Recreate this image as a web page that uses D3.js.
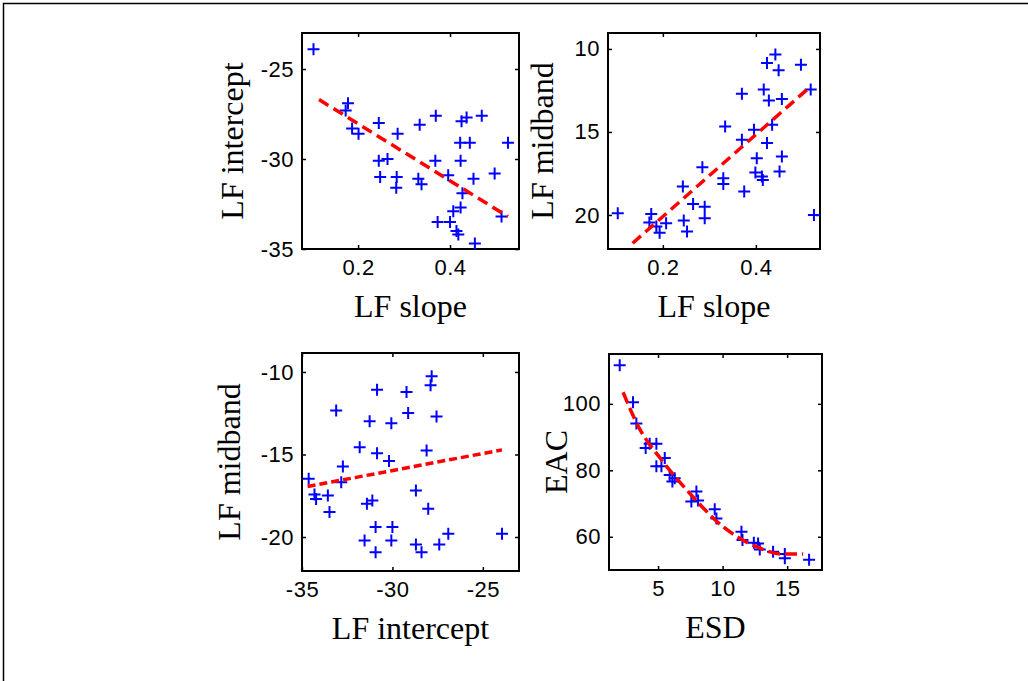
<!DOCTYPE html>
<html><head><meta charset="utf-8">
<script src="https://cdn.jsdelivr.net/npm/d3@7"></script>
<style>
html,body{margin:0;padding:0;background:#fff;}
svg{display:block;}
</style></head>
<body>
<script>
// ---------- DATA ----------
// Panel A: LF slope vs LF intercept
const slopeA = [0.103,0.178,0.173,0.187,0.201,0.245,0.286,0.334,0.369,0.425,0.436,0.469,0.422,0.443,0.526,0.245,0.264,0.248,0.284,0.283,0.331,0.338,0.368,0.396,0.423,0.451,0.497,0.427,0.423,0.407,0.373,0.400,0.414,0.418,0.454,0.512];
const interceptA = [-23.9,-26.9,-27.3,-28.3,-28.6,-28.0,-28.6,-28.1,-27.6,-27.9,-27.7,-27.6,-29.1,-29.1,-29.1,-30.1,-30.0,-31.0,-31.0,-31.6,-31.1,-31.4,-30.1,-30.9,-30.1,-31.1,-30.8,-31.9,-32.7,-32.9,-33.5,-33.5,-34.0,-34.2,-34.7,-33.2];
const fitA_x = [0.115,0.526];
const fitA_y = [-26.7,-33.2];

// Panel B: LF slope vs LF midband (reversed axis)
const slopeB = [0.103,0.175,0.171,0.186,0.193,0.207,0.243,0.245,0.252,0.265,0.290,0.290,0.285,0.334,0.330,0.330,0.370,0.370,0.375,0.396,0.402,0.399,0.413,0.417,0.428,0.424,0.442,0.449,0.424,0.435,0.451,0.456,0.456,0.497,0.518,0.525,0.415];
const midbandB = [19.9,19.94,20.46,20.7,21.07,20.5,18.29,20.34,21.0,19.34,19.5,20.2,17.12,14.67,17.79,18.13,12.7,15.47,18.59,14.87,16.58,17.44,17.69,12.45,13.1,10.85,10.34,11.29,15.67,14.57,17.38,13.02,16.48,10.95,12.45,20.0,17.9];
const fitB_x = [0.135,0.514];
const fitB_y = [21.7,12.35];

// Panel C: LF intercept vs LF midband
const interceptC = [-34.63,-34.31,-34.22,-33.57,-33.48,-33.11,-32.74,-32.83,-31.81,-31.26,-30.85,-30.85,-31.41,-31.11,-30.93,-31.54,-30.93,-30.06,-30.19,-30.0,-30.06,-29.22,-29.13,-28.7,-28.7,-28.39,-28.11,-28.02,-27.83,-27.89,-27.56,-27.41,-26.91,-23.94];
const midbandC = [-16.47,-17.42,-17.69,-17.48,-18.49,-12.33,-15.73,-16.68,-14.56,-12.98,-11.08,-14.92,-17.99,-17.79,-19.4,-20.21,-20.92,-13.1,-15.4,-19.4,-20.21,-11.22,-12.49,-17.18,-20.45,-20.92,-14.76,-18.29,-10.26,-10.81,-12.7,-20.45,-19.81,-19.81];
const fitC_x = [-34.69,-23.94];
const fitC_y = [-16.94,-14.72];

// Panel D: ESD vs EAC
const esdD = [2.03,3.06,3.32,4.04,4.35,4.87,4.87,5.26,5.52,5.90,6.11,6.29,7.58,7.97,8.1,9.39,9.52,11.46,11.54,12.42,12.75,12.88,13.91,14.82,14.82,16.7];
const eacD = [111.6,100.5,94.1,86.7,88.0,88.0,81.2,81.2,83.7,78.6,76.6,77.6,70.6,73.6,70.9,68.3,65.5,61.5,59.0,58.2,58.0,56.2,55.5,54.8,53.5,53.1];
const fitD_x = [2.29,3.5,5.26,7.45,10.04,12.62,14.69,16.24];
const fitD_y = [103.5,93.0,83.2,73.1,63.0,57.0,54.8,54.8];

// Tick labels
const ticksA_x = [0.2,0.4], ticksA_y = [-35,-30,-25];
const ticksB_x = [0.2,0.4], ticksB_y = [10,15,20];
const ticksC_x = [-35,-30,-25], ticksC_y = [-20,-15,-10];
const ticksD_x = [5,10,15], ticksD_y = [60,80,100];

// ---------- DRAW ----------
const W = 1028, H = 681;
const svg = d3.select("body").append("svg").attr("width", W).attr("height", H);

svg.append("path").attr("d", `M3.5,${H} L3.5,3.5 L${W},3.5`)
  .attr("fill","none").attr("stroke","#000").attr("stroke-width",1.5);

const fmt1 = v => String(v.toFixed(1));
const fmt0 = v => String(v); // plain hyphen-minus

const panels = [
  {x0:302,x1:519,y0:33,y1:249, xd:[0.078,0.55], yd:[-35,-23], rev:false,
   xs:slopeA, ys:interceptA, fx:fitA_x, fy:fitA_y, tx:ticksA_x, ty:ticksA_y,
   fmtX:fmt1, xlab:"LF slope", ylab:"LF intercept", ylabX:243, dash:"11,6"},
  {x0:608,x1:820,y0:33,y1:249, xd:[0.082,0.538], yd:[9.04,22.05], rev:true,
   xs:slopeB, ys:midbandB, fx:fitB_x, fy:fitB_y, tx:ticksB_x, ty:ticksB_y,
   fmtX:fmt1, xlab:"LF slope", ylab:"LF midband", ylabX:553, dash:"11,6"},
  {x0:302,x1:519,y0:353,y1:571, xd:[-35,-23], yd:[-22.06,-8.85], rev:false,
   xs:interceptC, ys:midbandC, fx:fitC_x, fy:fitC_y, tx:ticksC_x, ty:ticksC_y,
   fmtX:fmt0, xlab:"LF intercept", ylab:"LF midband", ylabX:240, dash:"8,4"},
  {x0:609,x1:822,y0:354,y1:570, xd:[1.2,17.7], yd:[50,115], rev:false,
   xs:esdD, ys:eacD, fx:fitD_x, fy:fitD_y, tx:ticksD_x, ty:ticksD_y,
   fmtX:fmt0, xlab:"ESD", ylab:"EAC", ylabX:567, dash:"12,5", curve:true}
];

panels.forEach(p => {
  const x = d3.scaleLinear().domain(p.xd).range([p.x0, p.x1]);
  const y = d3.scaleLinear().domain(p.yd).range(p.rev ? [p.y0, p.y1] : [p.y1, p.y0]);
  const g = svg.append("g");
  const tl = 4;
  const bottom = g.append("g").attr("transform",`translate(0,${p.y1})`)
    .call(d3.axisBottom(x).tickValues(p.tx).tickSize(-tl).tickPadding(10).tickFormat(p.fmtX));
  const top = g.append("g").attr("transform",`translate(0,${p.y0})`)
    .call(d3.axisTop(x).tickValues(p.tx).tickSize(-tl).tickFormat(""));
  const left = g.append("g").attr("transform",`translate(${p.x0},0)`)
    .call(d3.axisLeft(y).tickValues(p.ty).tickSize(-tl).tickPadding(8).tickFormat(fmt0));
  const right = g.append("g").attr("transform",`translate(${p.x1},0)`)
    .call(d3.axisRight(y).tickValues(p.ty).tickSize(-tl).tickFormat(""));
  [bottom,top,left,right].forEach(a => {
    a.select(".domain").remove();
    a.selectAll("line").attr("stroke","#000").attr("stroke-width",1.5);
    a.selectAll("text").attr("font-family","'Liberation Sans', Arial, sans-serif")
      .attr("font-size",22).attr("letter-spacing","0.5px").attr("fill","#000");
  });
  bottom.selectAll("text").attr("dy","0.71em");
  g.append("rect").attr("x",p.x0).attr("y",p.y0)
    .attr("width",p.x1-p.x0).attr("height",p.y1-p.y0)
    .attr("fill","none").attr("stroke","#000").attr("stroke-width",2);

  const pts = p.xs.map((v,i)=>[v,p.ys[i]]);
  const s = 6;
  g.append("g").selectAll("path").data(pts).join("path")
    .attr("d", d => {
      const cx = x(d[0]), cy = y(d[1]);
      return `M${cx-s},${cy} L${cx+s},${cy} M${cx},${cy-s} L${cx},${cy+s}`;
    })
    .attr("stroke","#0000ff").attr("stroke-width",2).attr("fill","none");

  const fpts = p.fx.map((v,i)=>[v,p.fy[i]]);
  const line = d3.line().x(d=>x(d[0])).y(d=>y(d[1]));
  if (p.curve) line.curve(d3.curveMonotoneX);
  g.append("path").datum(fpts).attr("d", line)
    .attr("fill","none").attr("stroke","#ff0000").attr("stroke-width",3.5)
    .attr("stroke-dasharray",p.dash);

  g.append("text").attr("x",(p.x0+p.x1)/2).attr("y",p.y1+68)
    .attr("text-anchor","middle")
    .attr("font-family","'Liberation Serif', 'Times New Roman', serif")
    .attr("font-size",32).attr("fill","#000").text(p.xlab);
  g.append("text")
    .attr("transform",`translate(${p.ylabX},${(p.y0+p.y1)/2}) rotate(-90)`)
    .attr("text-anchor","middle")
    .attr("font-family","'Liberation Serif', 'Times New Roman', serif")
    .attr("font-size",32).attr("fill","#000").text(p.ylab);
});
</script>
</body></html>
